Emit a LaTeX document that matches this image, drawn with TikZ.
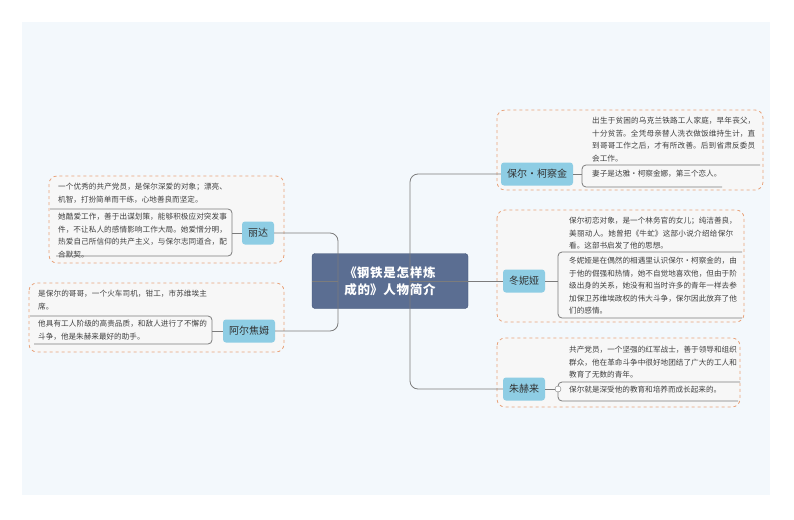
\documentclass[tikz,border=0pt]{standalone}
\usepackage{fontspec}
\setmainfont{Noto Sans CJK SC}
\XeTeXlinebreaklocale "zh"
\XeTeXlinebreakskip=0pt plus 1pt
\definecolor{bgblau}{HTML}{F3F8FC}
\definecolor{kern}{HTML}{5B6E92}
\definecolor{kernRand}{HTML}{3F5275}
\definecolor{thema}{HTML}{8ECDE4}
\definecolor{rahmen}{HTML}{E8A27A}
\definecolor{feld}{HTML}{F7F7F7}
\definecolor{linie}{HTML}{7C7C7C}
\tikzset{
  central/.style={rectangle,rounded corners=3pt,draw=kernRand,fill=kern,text=white,
    font=\fontsize{12.5}{17}\selectfont\bfseries,align=center,minimum width=156pt,minimum height=55pt,text width=130pt},
  topic/.style={rectangle,rounded corners=3pt,fill=thema,text=black!80,font=\fontsize{10}{12}\selectfont,
    minimum height=23pt,inner xsep=6pt},
  group/.style={draw=rahmen,dashed,thick,rounded corners=8pt,fill=feld},
  detail/.style={anchor=north west,font=\fontsize{7.6}{12.5}\selectfont,text=black!75,align=left,inner sep=0pt},
  bracket/.style={draw=linie,rounded corners=4pt,thick},
  edge/.style={draw=linie,thick,rounded corners=8pt}
}
\begin{document}
\begin{tikzpicture}[x=1pt,y=-1pt]
\useasboundingbox (0,0) rectangle (794,519);
\fill[white] (0,0) rectangle (794,519);
\fill[bgblau] (22,22) rectangle (770,495);

% groups
\draw[group] (497,110) rectangle (763,190);
\draw[group] (497,210) rectangle (744,322);
\draw[group] (497,338) rectangle (740,407);
\draw[group] (49,176) rectangle (284,263);
\draw[group] (29,283) rectangle (284,352);

% central and topics
\node[central] (C) at (390,281) {《钢铁是怎样炼成的》人物简介};
\node[topic] (T1) at (537,174) {保尔·柯察金};
\node[topic] (T2) at (524,281) {冬妮娅};
\node[topic] (T3) at (524,389) {朱赫来};
\node[topic] (L1) at (258,233) {丽达};
\node[topic] (L2) at (249,331) {阿尔焦姆};

% connectors
\coordinate (R) at (410,281);
\draw[edge] (C.east) -- (R);
\draw[edge] (R) |- (T1.west);
\draw[edge] (R) -- (T2.west);
\draw[edge] (R) |- (T3.west);
\coordinate (L) at (338,281);
\draw[edge] (C.west) -- (L);
\draw[edge] (L) |- (L1.east);
\draw[edge] (L) |- (L2.east);

% Pavel
\node[detail,text width=166pt] (D11) at (592,117) {出生于贫困的乌克兰铁路工人家庭，早年丧父，十分贫苦。全凭母亲替人洗衣做饭维持生计，直到哥哥工作之后，才有所改善。后到省肃反委员会工作。};
\draw[bracket] (760,165) -- (582,165) -- (582,187) -- (722,187);
\draw[linie,thick] (T1.east) -- (582,174);
\node[detail] (D12) at (592,170) {妻子是达雅·柯察金娜，第三个恋人。};

% Tonya
\node[detail,text width=168pt] (D21) at (569,217) {保尔初恋对象，是一个林务官的女儿；纯洁善良，美丽动人。她曾把《牛虻》这部小说介绍给保尔看。这部书启发了他的思想。};
\draw[bracket] (742,252) -- (558,252) -- (558,318) -- (742,318);
\draw[linie,thick] (T2.east) -- (558,281);
\node[detail,text width=168pt] (D22) at (569,257) {冬妮娅是在偶然的相遇里认识保尔·柯察金的，由于他的倔强和热情，她不自觉地喜欢他，但由于阶级出身的关系，她没有和当时许多的青年一样去参加保卫苏维埃政权的伟大斗争，保尔因此放弃了他们的感情。};

% Zhukhrai
\node[detail,text width=168pt] (D31) at (569,346) {共产党员，一个坚强的红军战士，善于领导和组织群众，他在革命斗争中很好地团结了广大的工人和教育了无数的青年。};
\draw[bracket] (740,382) -- (558,382) -- (558,401) -- (738,401);
\draw[linie,thick] (T3.east) -- (558,389);
\draw[linie,fill=white] (558,389) circle (3pt);
\node[detail] (D32) at (569,386) {保尔就是深受他的教育和培养而成长起来的。};

% Rita
\node[detail,text width=170pt] (D41) at (58,183) {一个优秀的共产党员，是保尔深爱的对象；漂亮、机智，打扮简单而干练，心地善良而坚定。};
\draw[bracket] (50,209) -- (232,209) -- (232,256) -- (56,256);
\draw[linie,thick] (L1.west) -- (232,233);
\node[detail,text width=170pt] (D42) at (58,213) {她酷爱工作，善于出谋划策，能够积极应对突发事件，不让私人的感情影响工作大局。她爱憎分明，热爱自己所信仰的共产主义，与保尔志同道合，配合默契。};

% Artem
\node[detail,text width=170pt] (D51) at (38,290) {是保尔的哥哥，一个火车司机，钳工，市苏维埃主席。};
\draw[bracket] (30,316) -- (212,316) -- (212,344) -- (34,344);
\draw[linie,thick] (L2.west) -- (212,331);
\node[detail,text width=170pt] (D52) at (38,320) {他具有工人阶级的高贵品质，和敌人进行了不懈的斗争，他是朱赫来最好的助手。};
\end{tikzpicture}
\end{document}
